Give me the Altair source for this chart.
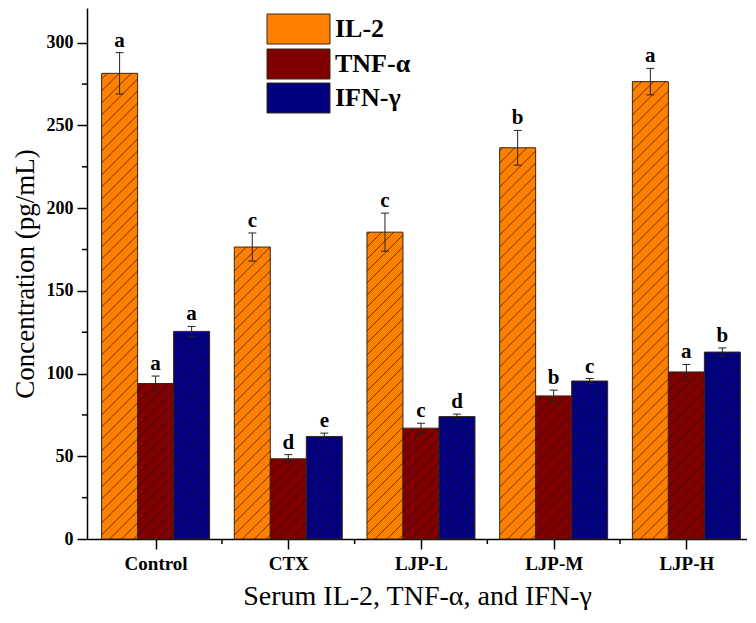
import json
import math
import altair as alt
import pandas as pd

# ---------------- data ----------------
groups = ["Control", "CTX", "LJP-L", "LJP-M", "LJP-H"]
series = ["IL-2", "TNF-α", "IFN-γ"]
il2 = [281.5, 176.5, 185.5, 236.5, 276.5]
il2_err = [12.5, 8.5, 11.5, 10.5, 8.0]
tnf = [94.0, 48.5, 67.0, 86.5, 101.0]
tnf_err = [4.5, 2.5, 3.0, 3.5, 4.5]
ifn = [125.5, 62.0, 74.0, 95.5, 113.0]
ifn_err = [3.0, 2.0, 1.5, 1.5, 2.5]
il2_letters = ["a", "c", "c", "b", "a"]
tnf_letters = ["a", "d", "c", "b", "a"]
ifn_letters = ["a", "e", "d", "c", "b"]
colors = ["#FF8000", "#800000", "#000080"]

y_major = [0, 50, 100, 150, 200, 250, 300]
y_minor = [25, 75, 125, 175, 225, 275]
x_major = [0, 1, 2, 3, 4]
x_minor = [0.5, 1.5, 2.5, 3.5]

# ---------------- geometry ----------------
W, H = 660, 531
XMIN, XMAX = -0.517, 4.457
YMAX = 321
kx = W / (XMAX - XMIN)
ky = H / YMAX
BW = 36 / kx          # bar width in x units
CAP = 4 / kx          # half cap width
SP = 12               # hatch spacing (px)
FONT = "Liberation Serif"


def hatch(w, h, s=SP):
    segs = []
    k0 = math.ceil(-w / s)
    k1 = math.floor(h / s)
    for k in range(k0, k1 + 1):
        c = k * s + 4
        u0 = max(0.0, -c)
        u1 = min(w, h - c)
        if u1 - u0 > 0.8:
            segs.append((u0, u0 + c, u1, u1 + c))
    return segs


vals = [il2, tnf, ifn]
errs = [il2_err, tnf_err, ifn_err]
lets = [il2_letters, tnf_letters, ifn_letters]

rows, hrows = [], []
for si, s in enumerate(series):
    for gi, g in enumerate(groups):
        x0 = gi + (si - 1.5) * BW
        x1 = x0 + BW
        v = vals[si][gi]
        e = errs[si][gi]
        cx = gi + (si - 1) * BW
        rows.append(dict(series=s, group=g, x0=x0, x1=x1, v=v, lo=v - e, hi=v + e,
                         cx=cx, c0=cx - CAP, c1=cx + CAP, letter=lets[si][gi]))
        for (ua, ta, ub, tb) in hatch(36, v * ky):
            hrows.append(dict(series=s, hx0=x0 + ua / kx, hy0=ta / ky,
                              hx1=x0 + ub / kx, hy1=tb / ky))

# ---------------- legend (placed in plot coordinates) ----------------
LX0, LW, LH = 180, 63, 30     # px from plot left
LY = [6, 41, 75]              # px from plot top


def px2x(px):
    return XMIN + px / kx


def py2y(py):
    return YMAX - py / ky


for si, s in enumerate(series):
    top, bot = LY[si], LY[si] + LH
    rows.append(dict(series=s, group="legend", x0=px2x(LX0), x1=px2x(LX0 + LW),
                     v=py2y(top), lo=py2y(bot), hi=None, cx=px2x(LX0 + LW + 5),
                     c0=None, c1=None, letter=s, ly=py2y((top + bot) / 2)))
    for (ua, ta, ub, tb) in hatch(LW, LH):
        hrows.append(dict(series=s, hx0=px2x(LX0 + ua), hy0=py2y(bot - ta),
                          hx1=px2x(LX0 + ub), hy1=py2y(bot - tb)))

df = pd.DataFrame(rows)
hdf = pd.DataFrame(hrows)
bar_df = df[df.group != "legend"].copy()
bar_df["base"] = 0.0
leg_df = df[df.group == "legend"].copy()

color_scale = alt.Scale(domain=series, range=colors)
label_expr = json.dumps(groups) + "[round(datum.value)]"

xs = alt.Scale(domain=[XMIN, XMAX], nice=False, zero=False)
ys = alt.Scale(domain=[0, YMAX], nice=False, zero=False)

x_axis = alt.Axis(values=x_major, labelExpr=label_expr,
                  title="Serum IL-2, TNF-α, and IFN-γ",
                  tickSize=10, labelFlush=False, labelOverlap=False, grid=False,
                  labelFont=FONT, labelFontWeight="bold", labelFontSize=19,
                  labelColor="black", labelPadding=5,
                  titleFont=FONT, titleFontWeight="normal", titleFontSize=28,
                  titleColor="black", titlePadding=9,
                  domainColor="black", domainWidth=1.5,
                  tickColor="black", tickWidth=1.5)
y_axis = alt.Axis(values=y_major, title="Concentration (pg/mL)",
                  tickSize=10, labelOverlap=False, grid=False,
                  labelFont=FONT, labelFontWeight="bold", labelFontSize=18,
                  labelColor="black", labelPadding=4,
                  titleFont=FONT, titleFontWeight="normal", titleFontSize=27,
                  titleColor="black", titlePadding=7,
                  domainColor="black", domainWidth=1.5,
                  tickColor="black", tickWidth=1.5)


def X(f):
    return alt.X(f, scale=xs, axis=x_axis)


def Y(f):
    return alt.Y(f, scale=ys, axis=y_axis)


bars = alt.Chart(bar_df).mark_rect(stroke="#3a2614", strokeWidth=1).encode(
    x=X("x0:Q"), x2="x1:Q", y=Y("v:Q"), y2="base:Q",
    fill=alt.Color("series:N", scale=color_scale, legend=None),
)

hatches = alt.Chart(hdf).mark_rule(color="#1a1208", strokeWidth=0.8, opacity=0.85).encode(
    x=X("hx0:Q"), x2="hx1:Q", y=Y("hy0:Q"), y2="hy1:Q",
)

err_v = alt.Chart(bar_df).mark_rule(color="#222222", strokeWidth=1).encode(
    x=X("cx:Q"), y=Y("lo:Q"), y2="hi:Q",
)
cap_hi = alt.Chart(bar_df).mark_rule(color="#222222", strokeWidth=1).encode(
    x=X("c0:Q"), x2="c1:Q", y=Y("hi:Q"),
)
cap_lo = alt.Chart(bar_df).mark_rule(color="#222222", strokeWidth=1).encode(
    x=X("c0:Q"), x2="c1:Q", y=Y("lo:Q"),
)

letters = alt.Chart(bar_df).mark_text(font=FONT, fontWeight="bold", fontSize=21,
                                      baseline="bottom", dy=-2, color="black").encode(
    x=X("cx:Q"), y=Y("hi:Q"), text="letter:N",
)

xm = alt.Chart(pd.DataFrame({"m": x_minor})).mark_rule(color="black", strokeWidth=1.5).encode(
    x=X("m:Q"), y=alt.value(H), y2=alt.value(H + 5),
)
ym = alt.Chart(pd.DataFrame({"m": y_minor})).mark_rule(color="black", strokeWidth=1.5).encode(
    y=Y("m:Q"), x=alt.value(0), x2=alt.value(-5),
)

leg_box = alt.Chart(leg_df).mark_rect(stroke="#3a2614", strokeWidth=1).encode(
    x=X("x0:Q"), x2="x1:Q", y=Y("v:Q"), y2="lo:Q",
    fill=alt.Color("series:N", scale=color_scale, legend=None),
)
leg_text = alt.Chart(leg_df).mark_text(font=FONT, fontWeight="bold", fontSize=26,
                                       align="left", baseline="middle", color="black").encode(
    x=X("cx:Q"), y=Y("ly:Q"), text="letter:N",
)

chart = alt.layer(bars, hatches, err_v, cap_hi, cap_lo, letters, xm, ym,
                  leg_box, leg_text).properties(
    width=W, height=H, background="white",
    padding={"left": 3, "top": 0, "right": 0, "bottom": 0}
).configure_view(stroke=None)

chart.save("out.html", embed_options={"renderer": "svg", "actions": False})
